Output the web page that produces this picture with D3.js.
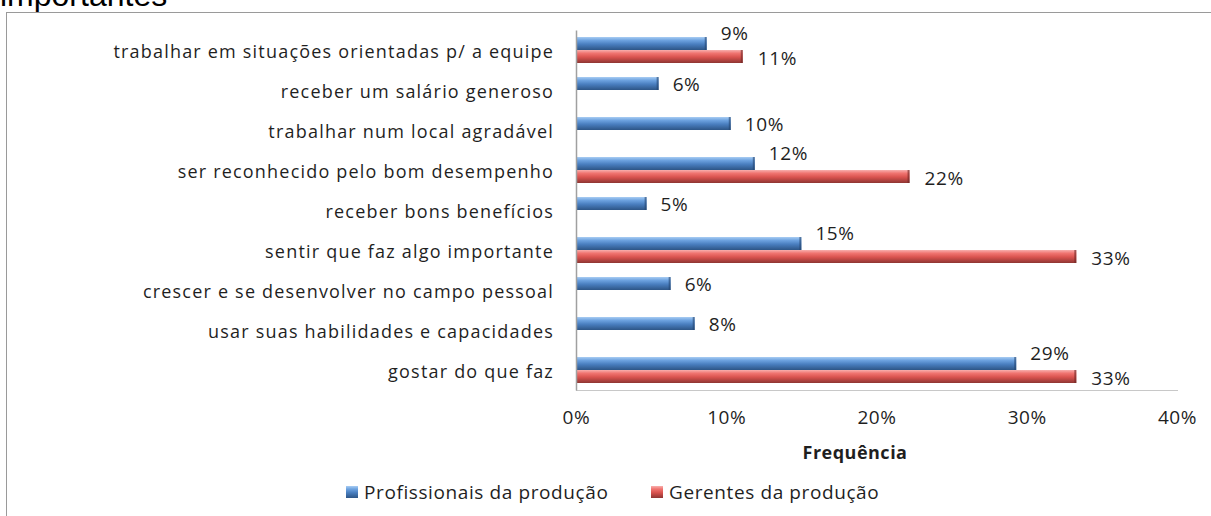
<!DOCTYPE html>
<html>
<head>
<meta charset="utf-8">
<script src="https://cdn.jsdelivr.net/npm/d3@7"></script>
<style>
  body { margin: 0; background: #fff; }
  svg { display: block; }
  .lbl { font-family: "Open Sans", sans-serif; fill: #1f1f1f; }
</style>
</head>
<body>
<div id="chart"></div>
<script>
// categories top to bottom
const categories = [
  "trabalhar em situações orientadas p/ a equipe",
  "receber um salário generoso",
  "trabalhar num local agradável",
  "ser reconhecido pelo bom desempenho",
  "receber bons benefícios",
  "sentir que faz algo importante",
  "crescer e se desenvolver no campo pessoal",
  "usar suas habilidades e capacidades",
  "gostar do que faz"
];
// values in %
const profissionais = [8.7, 5.5, 10.3, 11.9, 4.7, 15.0, 6.3, 7.9, 29.3];
const gerentes      = [11.1, 0, 0, 22.2, 0, 33.3, 0, 0, 33.3];
const seriesNames = ["Profissionais da produção", "Gerentes da produção"];
const xTicks = [0, 10, 20, 30, 40];

const width = 1211, height = 516;
const svg = d3.select("#chart").append("svg")
    .attr("width", width)
    .attr("height", height);

// gradients for the excel-ish 3d bars
const defs = svg.append("defs");
function grad(id, stops) {
  const g = defs.append("linearGradient").attr("id", id)
      .attr("x1", 0).attr("y1", 0).attr("x2", 0).attr("y2", 1);
  stops.forEach(s => g.append("stop").attr("offset", s[0]).attr("stop-color", s[1]));
}
grad("gBlue", [[0, "#a9cdf3"], [0.25, "#6ea3e0"], [0.55, "#4a7fc0"], [1, "#2d5586"]]);
grad("gRed",  [[0, "#f8b0ae"], [0.25, "#f07470"], [0.55, "#d9534f"], [1, "#8e3532"]]);

// title, cut off at the top (as in the source image)
svg.append("text")
    .attr("x", 0).attr("y", 6)
    .style("font-family", "Liberation Sans, Arial, sans-serif")
    .style("font-size", "32px")
    .attr("fill", "#000")
    .text("importantes");

// chart frame
svg.append("rect")
    .attr("x", 6.5).attr("y", 12.5)
    .attr("width", 1215).attr("height", 515)
    .attr("fill", "#fff")
    .attr("stroke", "#9a9a9a");

const x = d3.scaleLinear().domain([0, 40]).range([576, 1177]);
const y = d3.scaleBand().domain(categories).range([30, 390]);
const barH = 13;

// bottom plot line
svg.append("line")
    .attr("x1", 576).attr("x2", 1178)
    .attr("y1", 390.5).attr("y2", 390.5)
    .attr("stroke", "#c8c8c8");

// bars
const rows = categories.map((c, i) => ({cat: c, p: profissionais[i], g: gerentes[i]}));

function drawBars(data, key, dy, fill, cap) {
  const g = svg.append("g");
  g.selectAll("rect.b").data(data).enter().append("rect")
      .attr("x", x(0))
      .attr("y", d => y(d.cat) + y.bandwidth() / 2 + dy)
      .attr("width", d => x(d[key]) - x(0))
      .attr("height", barH)
      .attr("fill", fill);
  // darker end cap, like the 3d bevel in the source
  g.selectAll("rect.c").data(data).enter().append("rect")
      .attr("x", d => x(d[key]) - 2)
      .attr("y", d => y(d.cat) + y.bandwidth() / 2 + dy)
      .attr("width", 2)
      .attr("height", barH)
      .attr("fill", cap)
      .attr("opacity", 0.6);
}
drawBars(rows, "p", -barH, "url(#gBlue)", "#23456f");
drawBars(rows.filter(d => d.g > 0), "g", 0, "url(#gRed)", "#6e2624");

// value labels
svg.selectAll(".vp").data(rows).enter().append("text")
    .attr("class", "lbl")
    .attr("x", d => x(d.p) + 14)
    .attr("y", d => y(d.cat) + y.bandwidth() / 2 - (d.g > 0 ? 17 : 6))
    .attr("dy", "0.36em")
    .style("font-size", "19px")
    .style("letter-spacing", "0.6px")
    .text(d => Math.round(d.p) + "%");

svg.selectAll(".vg").data(rows.filter(d => d.g > 0)).enter().append("text")
    .attr("class", "lbl")
    .attr("x", d => x(d.g) + 15)
    .attr("y", d => y(d.cat) + y.bandwidth() / 2 + 8)
    .attr("dy", "0.36em")
    .style("font-size", "19px")
    .style("letter-spacing", "0.6px")
    .text(d => Math.round(d.g) + "%");

// category axis
const yAxis = svg.append("g")
    .attr("transform", "translate(576,0)")
    .call(d3.axisLeft(y).tickSize(0).tickPadding(22));
yAxis.select(".domain").attr("stroke", "#a0a0a0").attr("stroke-width", 1.5);
yAxis.selectAll("text")
    .attr("class", "lbl")
    .attr("dy", "0.45em")
    .style("font-size", "18px")
    .style("letter-spacing", "1.2px");

// x axis
const xAxis = svg.append("g")
    .attr("transform", "translate(0,407)")
    .call(d3.axisBottom(x).tickValues(xTicks).tickSize(0).tickFormat(d => d + "%"));
xAxis.select(".domain").remove();
xAxis.selectAll("text")
    .attr("class", "lbl")
    .style("font-size", "19px")
    .style("letter-spacing", "0.6px");

svg.append("text")
    .attr("class", "lbl")
    .attr("x", 855).attr("y", 459)
    .attr("text-anchor", "middle")
    .style("font-size", "18px")
    .style("letter-spacing", "0.5px")
    .style("font-weight", "bold")
    .text("Frequência");

// legend
const legendX = [346, 651];
const legendFill = ["url(#gBlue)", "url(#gRed)"];
seriesNames.forEach((name, i) => {
  svg.append("rect")
      .attr("x", legendX[i]).attr("y", 486)
      .attr("width", 12).attr("height", 12)
      .attr("fill", legendFill[i]);
  svg.append("text")
      .attr("class", "lbl")
      .attr("x", legendX[i] + 18).attr("y", 499)
      .style("font-size", "19px")
      .style("letter-spacing", "0.6px")
      .text(name);
});
</script>
</body>
</html>
